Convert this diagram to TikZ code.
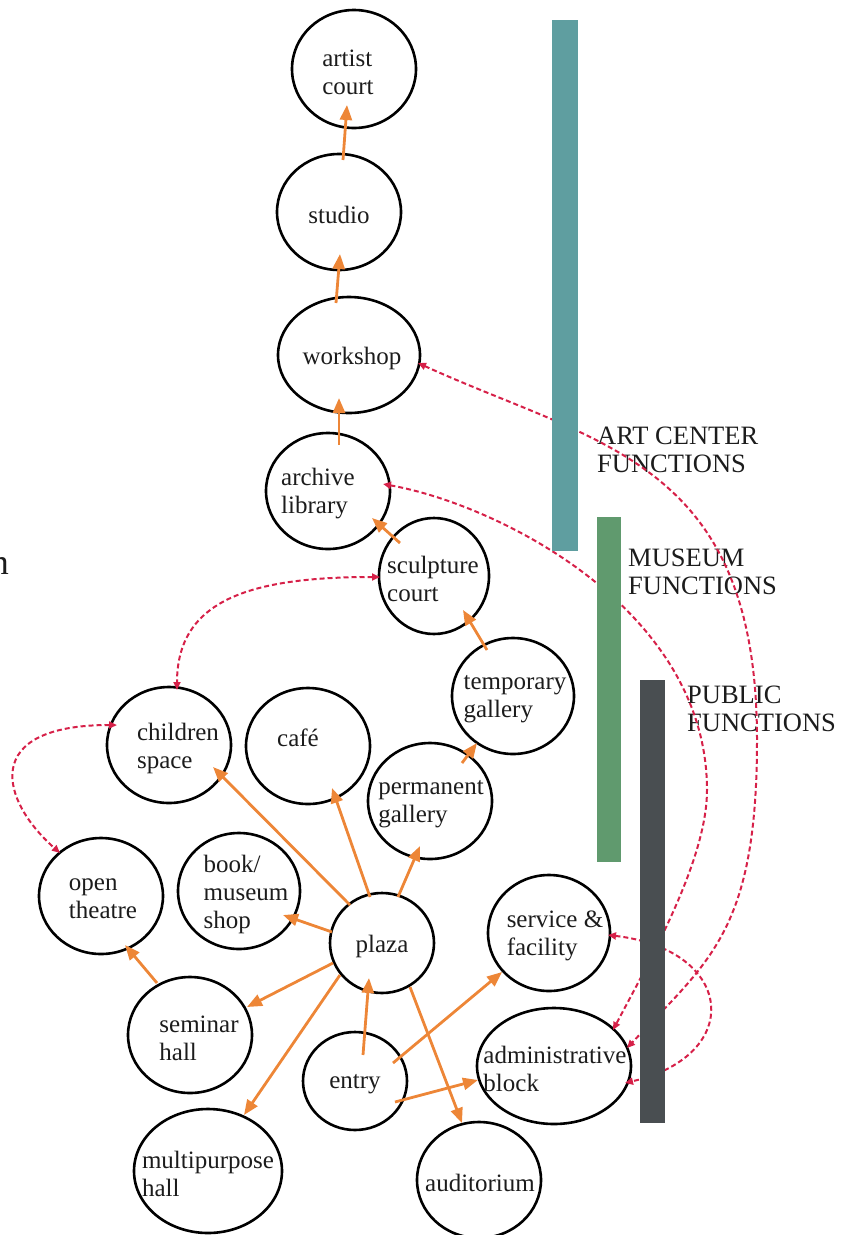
\documentclass[tikz,border=0pt]{standalone}
\usepackage{fontspec}
\setmainfont{Liberation Serif}
\usetikzlibrary{shapes.geometric,arrows.meta}
\definecolor{flow}{RGB}{237,134,55}
\definecolor{link}{RGB}{214,32,72}
\definecolor{artbar}{RGB}{95,158,160}
\definecolor{musbar}{RGB}{96,154,110}
\definecolor{pubbar}{RGB}{73,78,81}
\definecolor{ink}{RGB}{28,28,28}

\begin{document}
\begin{tikzpicture}[x=1pt,y=-1pt,
  room/.style 2 args={ellipse, draw=black, line width=2.6pt, inner sep=0pt,
    minimum width=#1pt, minimum height=#2pt},
  words/.style={align=left, text=ink, inner sep=0pt,
    font=\fontsize{25}{28}\selectfont},
  zonetext/.style={align=left, text=ink, inner sep=0pt, anchor=west,
    font=\fontsize{26.5}{28.5}\selectfont},
  flowarrow/.style={draw=flow, line width=2.8pt,
    -{Triangle[length=15pt,width=12pt]}},
  linkarrow/.style={draw=link, line width=2pt, dash pattern=on 5pt off 3pt,
    {Triangle[length=8pt,width=7pt]}-{Triangle[length=8pt,width=7pt]}}
]
\useasboundingbox (0,0) rectangle (852,1235);

% spaces
\node[room={124}{118}] (artist)     at (354,69)   {};
\node[room={124}{116}] (studio)     at (339,212)  {};
\node[room={142}{116}] (workshop)   at (349,355)  {};
\node[room={124}{116}] (archive)    at (328,491)  {};
\node[room={110}{116}] (sculpture)  at (434,576)  {};
\node[room={122}{116}] (temporary)  at (513,696)  {};
\node[room={124}{116}] (permanent)  at (430,801)  {};
\node[room={124}{116}] (cafe)       at (308,746)  {};
\node[room={124}{116}] (children)   at (169,745)  {};
\node[room={124}{116}] (theatre)    at (101,896)  {};
\node[room={122}{116}] (shop)       at (239,891)  {};
\node[room={104}{100}] (plaza)      at (382,943)  {};
\node[room={124}{116}] (seminar)    at (190,1035) {};
\node[room={104}{98}]  (entry)      at (355,1081) {};
\node[room={148}{124}] (multi)      at (208,1171) {};
\node[room={124}{116}] (auditorium) at (479,1180) {};
\node[room={122}{116}] (service)    at (549,933)  {};
\node[room={154}{116}] (admin)      at (554,1066) {};

% names of the spaces
\node[words] (artist-t)     at ([shift={(-6,3)}]artist.center)    {artist\\court};
\node[words] (studio-t)     at ([shift={(0,3)}]studio.center)     {studio};
\node[words] (workshop-t)   at ([shift={(3,3)}]workshop.center)   {workshop};
\node[words] (archive-t)    at ([shift={(-10,3)}]archive.center)  {archive\\library};
\node[words] (sculpture-t)  at ([shift={(-1,3)}]sculpture.center) {sculpture\\court};
\node[words] (temporary-t)  at ([shift={(2,3)}]temporary.center)  {temporary\\gallery};
\node[words] (permanent-t)  at ([shift={(1,3)}]permanent.center)  {permanent\\gallery};
\node[words] (cafe-t)       at ([shift={(-10,-8)}]cafe.center)    {café};
\node[words] (children-t)   at ([shift={(9,3)}]children.center)   {children\\space};
\node[words] (theatre-t)    at ([shift={(2,3)}]theatre.center)    {open\\theatre};
\node[words] (shop-t)       at ([shift={(7,3)}]shop.center)       {book/\\museum\\shop};
\node[words] (plaza-t)      at ([shift={(0,3)}]plaza.center)      {plaza};
\node[words] (seminar-t)    at ([shift={(9,3)}]seminar.center)    {seminar\\hall};
\node[words] (entry-t)      at ([shift={(0,3)}]entry.center)      {entry};
\node[words] (multi-t)      at ([shift={(0,3)}]multi.center)      {multipurpose\\hall};
\node[words] (auditorium-t) at ([shift={(1,3)}]auditorium.center) {auditorium};
\node[words] (service-t)    at ([shift={(6,3)}]service.center)    {service \&\\facility};
\node[words] (admin-t)      at ([shift={(1,3)}]admin.center)      {administrative\\block};

% clipped letter at the left edge
\node[anchor=base east, text=ink, inner sep=0pt,
  font=\fontsize{36}{40}\selectfont] (edge-n) at (9,574) {n};

% zone captions
\node[zonetext] (art-cap) at (597,450) {ART CENTER\\FUNCTIONS};
\node[zonetext] (mus-cap) at (628,572) {MUSEUM\\FUNCTIONS};
\node[zonetext] (pub-cap) at (687,709) {PUBLIC\\FUNCTIONS};

% two-way links
\draw[linkarrow] ([shift={(69,8)}]workshop.center)
  .. controls (598,445) and (757,460) .. (757,740)
  .. controls (757,930) and (710,960) .. ([shift={(73,-18)}]admin.center);
\draw[linkarrow] ([shift={(55,-7)}]archive.center)
  .. controls (500,505) and (707,610) .. (707,790)
  .. controls (707,860) and (650,960) .. ([shift={(59,-36)}]admin.center);
\draw[linkarrow] ([shift={(59,2)}]service.center)
  .. controls (735,950) and (745,1055) .. ([shift={(71,17)}]admin.center);
\draw[linkarrow] ([shift={(-54,1)}]sculpture.center)
  .. controls (250,577) and (177,600) .. ([shift={(8,-55)}]children.center);
\draw[linkarrow] ([shift={(-52,-20)}]children.center)
  .. controls (-20,725) and (0,800) .. ([shift={(-41,-43)}]theatre.center);

% circulation
\draw[flowarrow] ([shift={(4,-52)}]studio.center)     -- ([shift={(-7,36)}]artist.center);
\draw[flowarrow] ([shift={(-13,-52)}]workshop.center) -- ([shift={(1,42)}]studio.center);
\draw[flowarrow] ([shift={(11,-46)}]archive.center)   -- ([shift={(-10,43)}]workshop.center);
\draw[flowarrow] ([shift={(-34,-33)}]sculpture.center) -- ([shift={(44,27)}]archive.center);
\draw[flowarrow] ([shift={(-26,-46)}]temporary.center) -- ([shift={(29,34)}]sculpture.center);
\draw[flowarrow] ([shift={(32,-38)}]permanent.center) -- ([shift={(-36,47)}]temporary.center);
\draw[flowarrow] ([shift={(-32,-38)}]plaza.center)    -- ([shift={(44,22)}]children.center);
\draw[flowarrow] ([shift={(-12,-46)}]plaza.center)    -- ([shift={(24,42)}]cafe.center);
\draw[flowarrow] ([shift={(16,-46)}]plaza.center)     -- ([shift={(-10,45)}]permanent.center);
\draw[flowarrow] ([shift={(-50,-11)}]plaza.center)    -- ([shift={(44,24)}]shop.center);
\draw[flowarrow] ([shift={(-49,20)}]plaza.center)     -- ([shift={(57,-28)}]seminar.center);
\draw[flowarrow] ([shift={(-42,32)}]plaza.center)     -- ([shift={(36,-56)}]multi.center);
\draw[flowarrow] ([shift={(28,44)}]plaza.center)      -- ([shift={(-17,-57)}]auditorium.center);
\draw[flowarrow] ([shift={(8,-26)}]entry.center)      -- ([shift={(-13,35)}]plaza.center);
\draw[flowarrow] ([shift={(38,-18)}]entry.center)     -- ([shift={(-47,39)}]service.center);
\draw[flowarrow] ([shift={(40,21)}]entry.center)      -- ([shift={(-76,14)}]admin.center);
\draw[flowarrow] ([shift={(-33,-52)}]seminar.center)  -- ([shift={(24,49)}]theatre.center);

% zone bars
\fill[artbar] (552,20) rectangle (578,551);
\fill[musbar] (597,517) rectangle (621,862);
\fill[pubbar] (640,680) rectangle (665,1123);
\end{tikzpicture}
\end{document}
